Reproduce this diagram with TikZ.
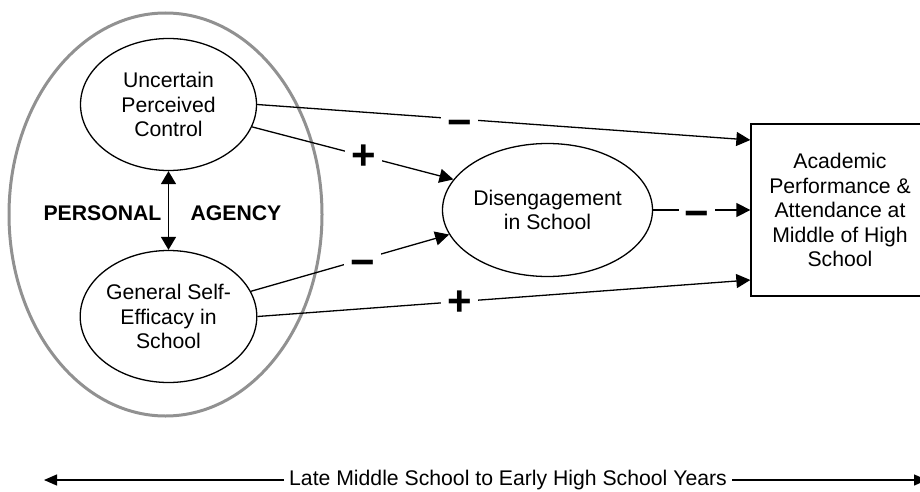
\documentclass[tikz,border=0pt]{standalone}
\usepackage{fontspec}
\setmainfont{Liberation Sans}
\usetikzlibrary{arrows.meta,shapes.geometric}
\definecolor{ringgray}{RGB}{145,145,145}
\begin{document}
\begin{tikzpicture}[x=1pt,y=-1pt,
  txt/.style={font=\fontsize{21.2}{24.5}\selectfont, align=center},
  oval/.style={ellipse, draw, line width=1.3pt, inner sep=0pt, txt},
  arr/.style={line width=1.3pt, -{Triangle[length=14pt,width=14pt]}},
  sign/.style={fill=white, inner xsep=6pt, inner ysep=0pt, text height=27pt, text depth=0pt,
    font=\fontsize{42}{42}\selectfont\bfseries},
  minus/.style={sign, yshift=-4pt},
  agency/.style={font=\fontsize{21.2}{24.5}\selectfont\bfseries}]
\useasboundingbox (0,0) rectangle (920,492);
% outer ring
\node[ellipse, draw=ringgray, line width=3pt, minimum width=313pt, minimum height=403pt, inner sep=0pt] (ring) at (165.5,214.5) {};
% nodes
\node[oval, minimum width=176pt, minimum height=132pt] (upc) at (168.5,104.5) {Uncertain\\Perceived\\Control};
\node[oval, minimum width=176pt, minimum height=132pt] (gse) at (168.5,316.5) {General Self-\\Efficacy in\\School};
\node[oval, minimum width=194pt, minimum height=133pt] (dis) at (547.5,210) {Disengagement\\in School};
\node[draw, line width=1.3pt, minimum width=178pt, minimum height=172pt, inner sep=0pt, txt] (apa) at (840,210)
  {Academic\\Performance \&\\Attendance at\\Middle of High\\School};
\node[agency] (pers) at (102.5,213) {PERSONAL};
\node[agency] (agen) at (236,213) {AGENCY};
% double arrow
\draw[line width=1.6pt, {Triangle[length=13pt,width=15pt]}-{Triangle[length=13pt,width=15pt]}] (upc.south) -- (gse.north);
% paths
\draw[arr] (upc.east) -- node[minus, pos=0.41] {−} ([yshift=70pt]apa.west);
\draw[arr] (upc.-15.5) -- node[sign, pos=0.553] {+} (dis.162.6);
\draw[arr] (gse.17) -- node[minus, pos=0.562] {−} (dis.-166.3);
\draw[arr] (gse.east) -- node[sign, pos=0.41] {+} ([yshift=-70pt]apa.west);
\draw[arr] (dis.east) -- node[minus, pos=0.45] {−} (apa.west);
% time line
\node[txt, fill=white, inner xsep=5pt, inner ysep=2pt] (span) at (508,480) {Late Middle School to Early High School Years};
\coordinate (tl) at (44,480);
\coordinate (tr) at (927,480);
\draw[line width=1.3pt, -{Triangle[length=13pt,width=11pt]}] (span.west) -- (tl);
\draw[line width=1.3pt, -{Triangle[length=13pt,width=11pt]}] (span.east) -- (tr);
\end{tikzpicture}
\end{document}
